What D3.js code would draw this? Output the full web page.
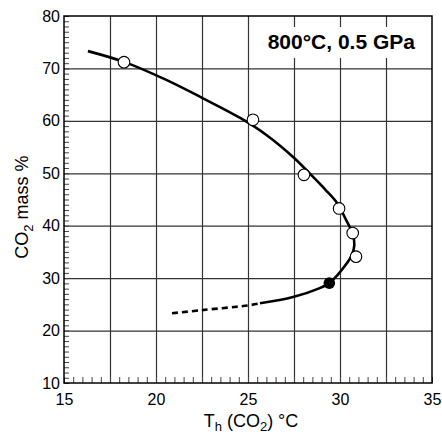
<!DOCTYPE html>
<html>
<head>
<meta charset="utf-8">
<script src="https://cdn.jsdelivr.net/npm/d3@7"></script>
<style>
  body { margin: 0; background: #fff; }
  svg { display: block; font-family: "Liberation Sans", Arial, sans-serif; }
</style>
</head>
<body>
<script>
'use strict'

// measured points (Th in degC, CO2 mass %)
const openPts = [[18.26, 71.2], [25.27, 60.2], [28.04, 49.7], [29.95, 43.3], [30.69, 38.6], [30.87, 34.1]]
const filledPts = [[29.42, 29.05]]

// curve
const solidCurve = [
  [16.3, 73.3], [18.3, 71.2], [20.5, 67.9], [22.5, 64.4], [24.6, 60.5], [26, 57.3],
  [27.45, 53.1], [28.4, 49.8], [29.2, 46.9], [29.85, 44.3], [30.33, 41.1], [30.68, 38.6],
  [30.78, 36.3], [30.62, 34.2], [30.38, 32.9], [29.84, 30.5], [29.42, 29.05], [28.9, 28.1],
  [27.45, 26.4], [25.65, 25.2]
]
const dashedCurve = [[20.87, 23.3], [22.5, 23.9], [25.0, 24.8], [25.65, 25.2]]

const xMajor = [15, 20, 25, 30, 35]
const xGrid = [17.5, 20, 22.5, 25, 27.5, 30, 32.5]
const yMajor = [10, 20, 30, 40, 50, 60, 70, 80]
const title = '800°C, 0.5 GPa'

const W = 442
const H = 435
const margin = { top: 16, right: 10, bottom: 52, left: 64 }
const iw = W - margin.left - margin.right
const ih = H - margin.top - margin.bottom

const x = d3.scaleLinear().domain([15, 35]).range([0, iw])
const y = d3.scaleLinear().domain([10, 80]).range([ih, 0])

const svg = d3.select('body').append('svg')
  .attr('width', W)
  .attr('height', H)

const g = svg.append('g')
  .attr('transform', 'translate(' + margin.left + ',' + margin.top + ')')

// grid
g.append('g')
  .attr('class', 'grid')
  .call(d3.axisBottom(x).tickValues(xGrid).tickSize(ih).tickFormat(''))
  .call(s => s.select('.domain').remove())
g.append('g')
  .attr('class', 'grid')
  .call(d3.axisLeft(y).tickValues(yMajor.slice(1, -1)).tickSize(-iw).tickFormat(''))
  .call(s => s.select('.domain').remove())
g.selectAll('.grid line').attr('stroke', '#333').attr('stroke-width', 1.2)

// minor ticks, inward
g.append('g')
  .attr('class', 'minor')
  .attr('transform', 'translate(0,' + ih + ')')
  .call(d3.axisBottom(x).tickValues(d3.range(15, 35.01, 0.5)).tickSize(-6).tickFormat(''))
g.append('g')
  .attr('class', 'minor')
  .call(d3.axisLeft(y).tickValues(d3.range(10, 80.01, 1)).tickSize(-5).tickFormat(''))
g.selectAll('.minor .domain').remove()
g.selectAll('.minor line').attr('stroke', '#444').attr('stroke-width', 1)

// tick labels
g.append('g')
  .attr('transform', 'translate(0,' + ih + ')')
  .call(d3.axisBottom(x).tickValues(xMajor).tickSize(0).tickPadding(11).tickFormat(d3.format('d')))
  .call(s => s.select('.domain').remove())
  .selectAll('text').attr('font-size', 16).attr('fill', '#000').attr('font-family', null)
g.append('g')
  .call(d3.axisLeft(y).tickValues(yMajor).tickSize(0).tickPadding(4).tickFormat(d3.format('d')))
  .call(s => s.select('.domain').remove())
  .selectAll('text').attr('font-size', 16).attr('fill', '#000').attr('font-family', null)

// title box
const box = g.append('g')
box.append('rect')
  .attr('x', x(25) + 4)
  .attr('y', 11)
  .attr('width', x(35) - x(25) - 7)
  .attr('height', 31)
  .attr('fill', '#fff')
box.append('text')
  .attr('x', x(35) - 17)
  .attr('y', 33)
  .attr('text-anchor', 'end')
  .attr('font-size', 21)
  .attr('font-weight', 'bold')
  .text(title)

// frame
g.append('rect')
  .attr('width', iw)
  .attr('height', ih)
  .attr('fill', 'none')
  .attr('stroke', '#000')
  .attr('stroke-width', 1.5)

// curves
const line = d3.line()
  .x(d => x(d[0]))
  .y(d => y(d[1]))
  .curve(d3.curveCatmullRom.alpha(0.5))

g.append('path')
  .datum(solidCurve)
  .attr('d', line)
  .attr('fill', 'none')
  .attr('stroke', '#000')
  .attr('stroke-width', 2.6)

g.append('path')
  .datum(dashedCurve)
  .attr('d', line)
  .attr('fill', 'none')
  .attr('stroke', '#000')
  .attr('stroke-width', 2.6)
  .attr('stroke-dasharray', '6,4')

// points
g.selectAll('circle.open')
  .data(openPts)
  .enter()
  .append('circle')
  .attr('class', 'open')
  .attr('cx', d => x(d[0]))
  .attr('cy', d => y(d[1]))
  .attr('r', 5.8)
  .attr('fill', '#fff')
  .attr('stroke', '#000')
  .attr('stroke-width', 1.1)

g.selectAll('circle.filled')
  .data(filledPts)
  .enter()
  .append('circle')
  .attr('class', 'filled')
  .attr('cx', d => x(d[0]))
  .attr('cy', d => y(d[1]))
  .attr('r', 5.8)
  .attr('fill', '#000')

// axis titles
const xt = svg.append('text')
  .attr('x', margin.left + iw / 2 + 3)
  .attr('y', 427)
  .attr('text-anchor', 'middle')
  .attr('font-size', 18)
xt.append('tspan').text('T')
xt.append('tspan').attr('font-size', 13).attr('dy', 4).text('h')
xt.append('tspan').attr('dy', -4).text(' (CO')
xt.append('tspan').attr('font-size', 13).attr('dy', 4).text('2')
xt.append('tspan').attr('dy', -4).text(') °C')

const yt = svg.append('text')
  .attr('transform', 'translate(28,207) rotate(-90)')
  .attr('text-anchor', 'middle')
  .attr('font-size', 18)
yt.append('tspan').text('CO')
yt.append('tspan').attr('font-size', 13).attr('dy', 5).text('2')
yt.append('tspan').attr('dy', -5).text(' mass %')
</script>
</body>
</html>
